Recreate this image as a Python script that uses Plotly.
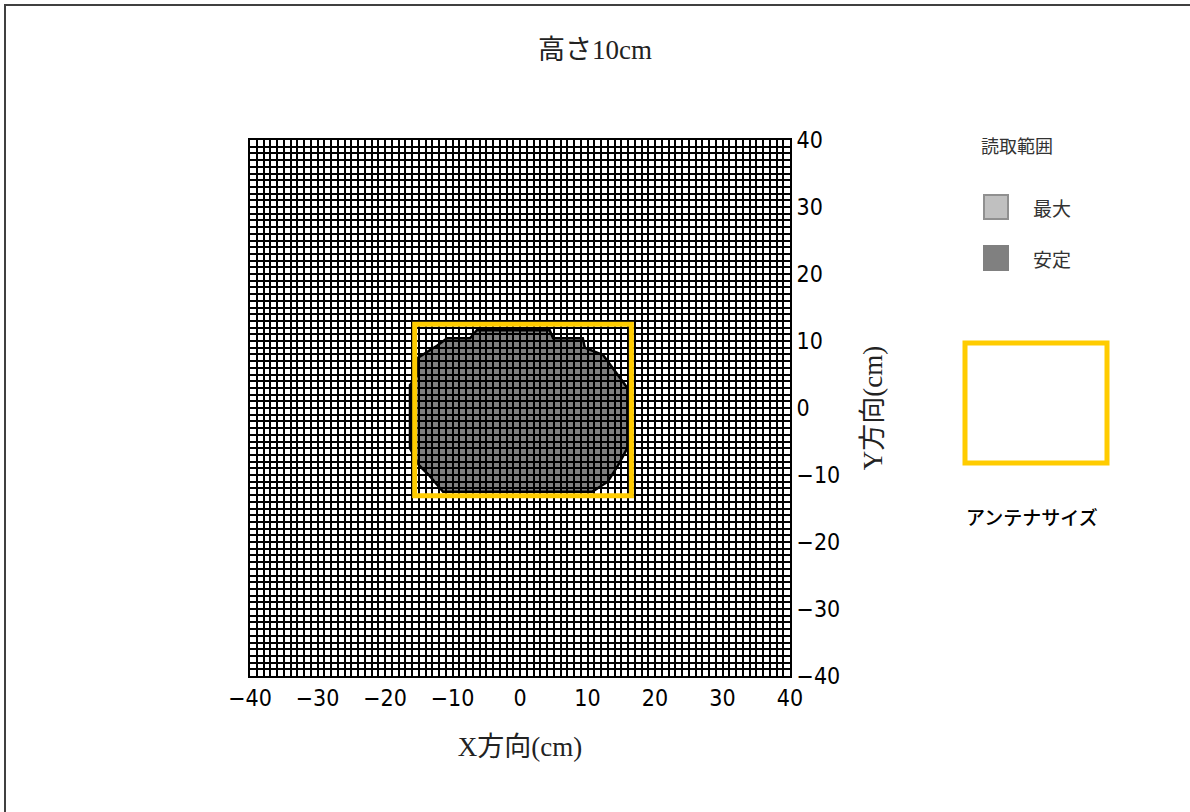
import plotly.graph_objects as go

# ---- data ----
title_text = "高さ10cm"
x_title = "X方向(cm)"
y_title = "Y方向(cm)"
axis_range = [-40, 40]
tick_vals = [-40, -30, -20, -10, 0, 10, 20, 30, 40]

# stable reading region boundary (cm)
stable_x = [-6.4, 4.4, 4.9, 9.3, 9.6, 12.3, 14.8, 15.9, 15.9, 14.5, 13.0, 10.7,
            -11.4, -13.5, -15.0, -16.3, -16.3, -15.1, -15.1, -12.3, -10.8, -7.4]
stable_y = [11.6, 11.6, 10.4, 10.4, 9.0, 7.9, 4.5, 3.0, -6.0, -8.6, -11.0, -12.5,
            -12.5, -10.0, -8.5, -6.0, 3.4, 5.0, 7.5, 9.3, 10.4, 10.4]

# antenna size (cm)
antenna_x = [-15.6, 16.5]
antenna_y = [-13.1, 12.5]

legend_title = "読取範囲"
legend_labels = ["最大", "安定"]
legend_colors = ["#c0c0c0", "#808080"]
legend_borders = ["#909090", "#808080"]
antenna_label = "アンテナサイズ"

W, H = 1190, 812
L, R, T, B = 250, 400, 140, 136
pw, ph = W - L - R, H - T - B

def px(x):
    return (x - L) / pw

def py(y):
    return (H - B - y) / ph

SANS = "Liberation Sans Narrow, DejaVu Sans Condensed, Liberation Sans, sans-serif"
SERIF = "Liberation Serif, Noto Sans CJK JP, serif"
CJK = "Noto Sans CJK JP, sans-serif"

fig = go.Figure()
fig.add_trace(go.Scatter(x=[None], y=[None], showlegend=False))

path = "M " + " L ".join(f"{x},{y}" for x, y in zip(stable_x, stable_y)) + " Z"
shapes = [
    dict(type="path", path=path, xref="x", yref="y", layer="below",
         fillcolor="#808080", line=dict(color="black", width=2.5)),
    dict(type="rect", xref="x", yref="y", x0=antenna_x[0], x1=antenna_x[1],
         y0=antenna_y[0], y1=antenna_y[1], layer="above",
         line=dict(color="#FFCC00", width=5)),
    # outer frame (right/bottom edges fall outside the page)
    dict(type="rect", xref="paper", yref="paper", x0=px(5), x1=px(1230),
         y0=py(850), y1=py(5), line=dict(color="#404040", width=2)),
    # antenna legend box
    dict(type="rect", xref="paper", yref="paper", x0=px(965), x1=px(1107),
         y0=py(463), y1=py(343), line=dict(color="#FFCC00", width=5)),
]
annotations = [
    dict(text=legend_title, xref="paper", yref="paper", x=px(1017), y=py(145),
         showarrow=False, font=dict(family=CJK, size=18, color="#333"),
         xanchor="center", yanchor="middle"),
    dict(text=antenna_label, xref="paper", yref="paper", x=px(1032), y=py(516),
         showarrow=False, font=dict(family=CJK, size=19, color="black", weight=500),
         xanchor="center", yanchor="middle"),
]
for i, (lab, col, bc) in enumerate(zip(legend_labels, legend_colors, legend_borders)):
    cy = 207 + i * 51
    shapes.append(dict(type="rect", xref="paper", yref="paper",
                       x0=px(984), x1=px(1008), y0=py(cy + 12), y1=py(cy - 12),
                       fillcolor=col, line=dict(color=bc, width=2)))
    annotations.append(dict(text=lab, xref="paper", yref="paper", x=px(1031), y=py(cy),
                            showarrow=False, font=dict(family=CJK, size=19, color="#333"),
                            xanchor="left", yanchor="middle"))

fig.update_layout(
    width=W, height=H,
    margin=dict(l=L, r=R, t=T, b=B, autoexpand=False),
    paper_bgcolor="white", plot_bgcolor="white",
    title=dict(text=title_text, x=0.5, xanchor="center", y=1 - 50 / H, yanchor="middle",
               yref="container", font=dict(family=SERIF, size=27, color="#222")),
    shapes=shapes, annotations=annotations,
    showlegend=False,
)
fig.update_xaxes(
    range=axis_range, tickvals=tick_vals, showgrid=True, gridcolor="black", gridwidth=2,
    minor=dict(dtick=1, showgrid=True, gridcolor="black", gridwidth=2),
    zeroline=False, showline=True, linecolor="black", linewidth=2, mirror=True,
    tickfont=dict(family=SANS, size=23, color="black"), ticks="",
    title=dict(text=x_title, font=dict(family=SERIF, size=27, color="#222"), standoff=28),
    automargin=False,
)
fig.update_yaxes(
    range=axis_range, tickvals=tick_vals, side="right", showgrid=True, gridcolor="black",
    gridwidth=2, minor=dict(dtick=1, showgrid=True, gridcolor="black", gridwidth=2),
    zeroline=False, showline=True, linecolor="black", linewidth=2, mirror=True,
    tickfont=dict(family=SANS, size=23, color="black"), ticks="",
    title=dict(text=y_title, font=dict(family=SERIF, size=27, color="#222"), standoff=24),
    automargin=False,
)

fig.write_html("out.html", config={"displayModeBar": False},
               post_script="document.body.style.margin='0';")
